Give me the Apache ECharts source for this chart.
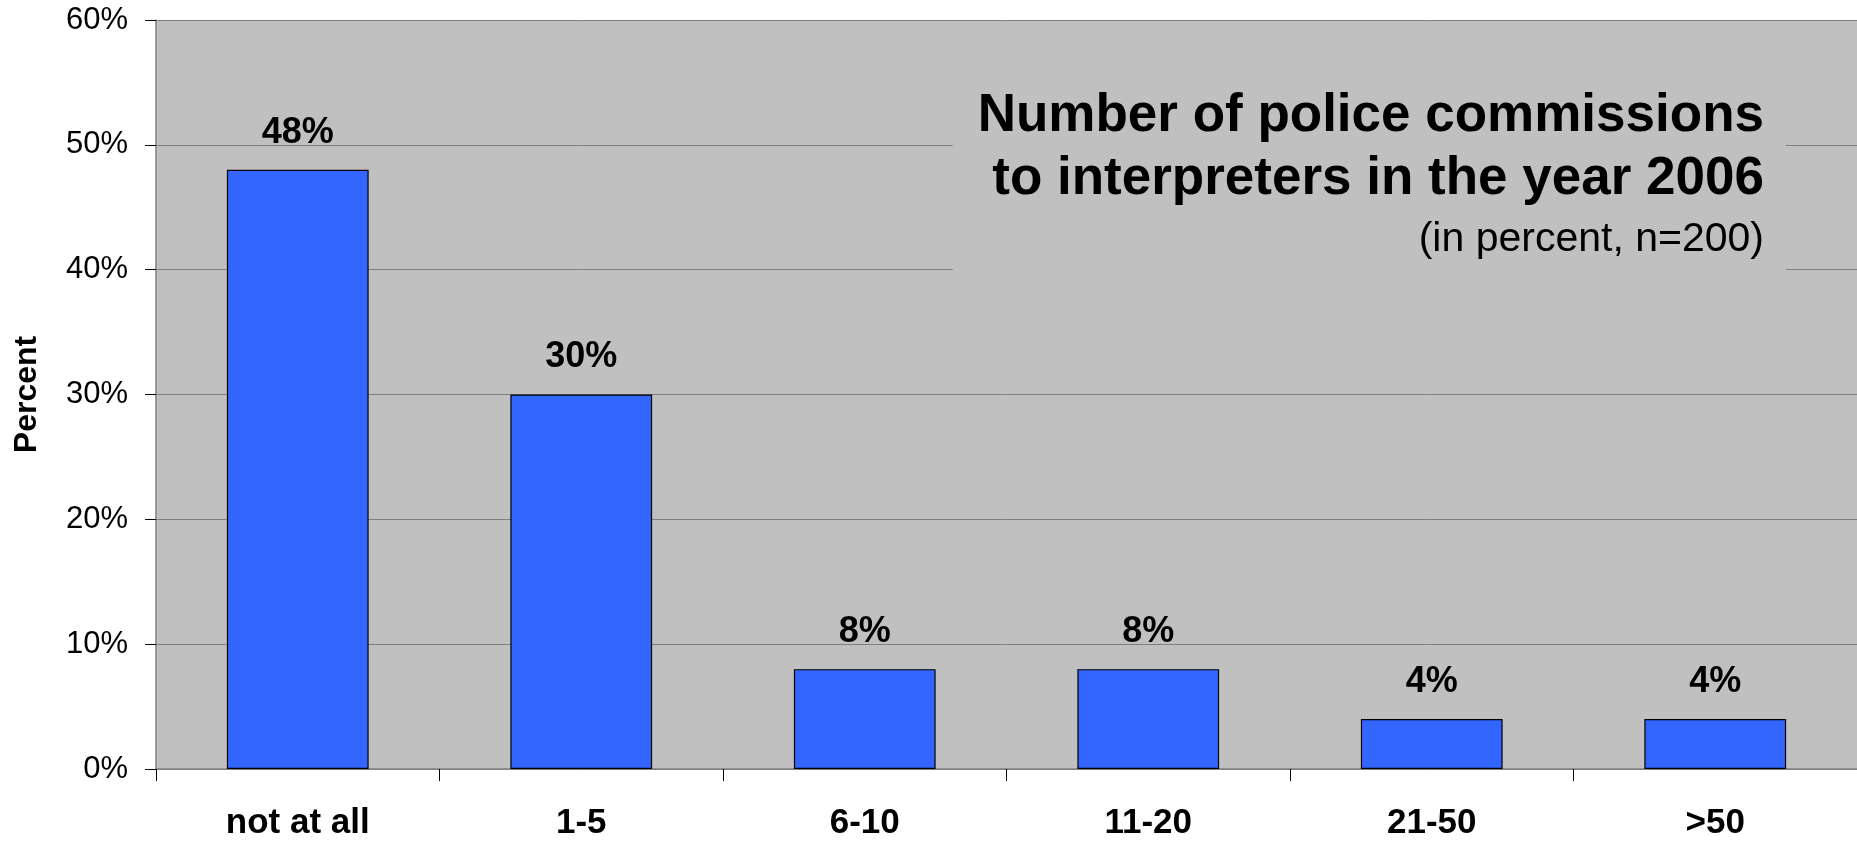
<!DOCTYPE html>
<html>
<head>
<meta charset="utf-8">
<style>
  html, body { margin: 0; padding: 0; background: #ffffff; }
  #chart { width: 1857px; height: 844px; }
</style>
<script src="https://cdn.jsdelivr.net/npm/echarts@6/dist/echarts.min.js"></script>
</head>
<body>
<div id="chart"></div>
<script>
// Survey answers: how many police commissions each interpreter received in 2006
const categories = ['not at all', '1-5', '6-10', '11-20', '21-50', '>50'];
const sharePercent = [48, 30, 8, 8, 4, 4];
const yTicks = { min: 0, max: 60, interval: 10 };

const titleLines = ['Number of police commissions', 'to interpreters in the year 2006'];
const subtitle = '(in percent, n=200)';
const yAxisName = 'Percent';

const FONT = '"Liberation Sans", Arial, Helvetica, sans-serif';

const chart = echarts.init(document.getElementById('chart'), null, { renderer: 'canvas' });

chart.setOption({
  backgroundColor: '#ffffff',
  animation: false,
  textStyle: { fontFamily: FONT },
  title: {
    text: titleLines.join('\n'),
    subtext: subtitle,
    textAlign: 'right',
    left: 1739,
    top: 75,
    padding: [10, 22, 18, 25],
    itemGap: 8,
    backgroundColor: '#C0C0C0',
    textStyle: {
      fontFamily: FONT, fontSize: 53, fontWeight: 'bold', color: '#000000', lineHeight: 63
    },
    subtextStyle: {
      fontFamily: FONT, fontSize: 41, fontWeight: 'normal', color: '#000000', lineHeight: 41
    }
  },
  grid: {
    left: 156,
    top: 20,
    right: -3,
    bottom: 75,
    show: true,
    backgroundColor: '#C0C0C0',
    borderWidth: 0,
    containLabel: false
  },
  xAxis: {
    type: 'category',
    data: categories,
    boundaryGap: true,
    axisLine: { show: true, lineStyle: { color: '#808080', width: 1.5 } },
    axisTick: { show: true, alignWithLabel: false, length: 12, lineStyle: { color: '#000000', width: 1 } },
    axisLabel: {
      margin: 37,
      fontFamily: FONT, fontSize: 35, fontWeight: 'bold', color: '#000000'
    },
    splitLine: { show: false }
  },
  yAxis: {
    type: 'value',
    min: yTicks.min,
    max: yTicks.max,
    interval: yTicks.interval,
    name: yAxisName,
    nameLocation: 'middle',
    nameRotate: 90,
    nameGap: 113,
    nameTextStyle: { fontFamily: FONT, fontSize: 32, fontWeight: 'bold', color: '#000000' },
    axisLine: { show: true, lineStyle: { color: '#808080', width: 1.5 } },
    axisTick: { show: true, length: 11, lineStyle: { color: '#000000', width: 1 } },
    axisLabel: {
      margin: 28,
      formatter: '{value}%',
      fontFamily: FONT, fontSize: 31, color: '#000000'
    },
    splitLine: { show: true, lineStyle: { color: '#808080', width: 1 } }
  },
  series: [{
    type: 'bar',
    data: sharePercent,
    barWidth: '50%',
    itemStyle: { color: '#3366FF', borderColor: '#000000', borderWidth: 1.2 },
    label: {
      show: true,
      position: 'top',
      distance: 19,
      formatter: '{c}%',
      fontFamily: FONT, fontSize: 36, fontWeight: 'bold', color: '#000000'
    }
  }]
});
</script>
</body>
</html>
